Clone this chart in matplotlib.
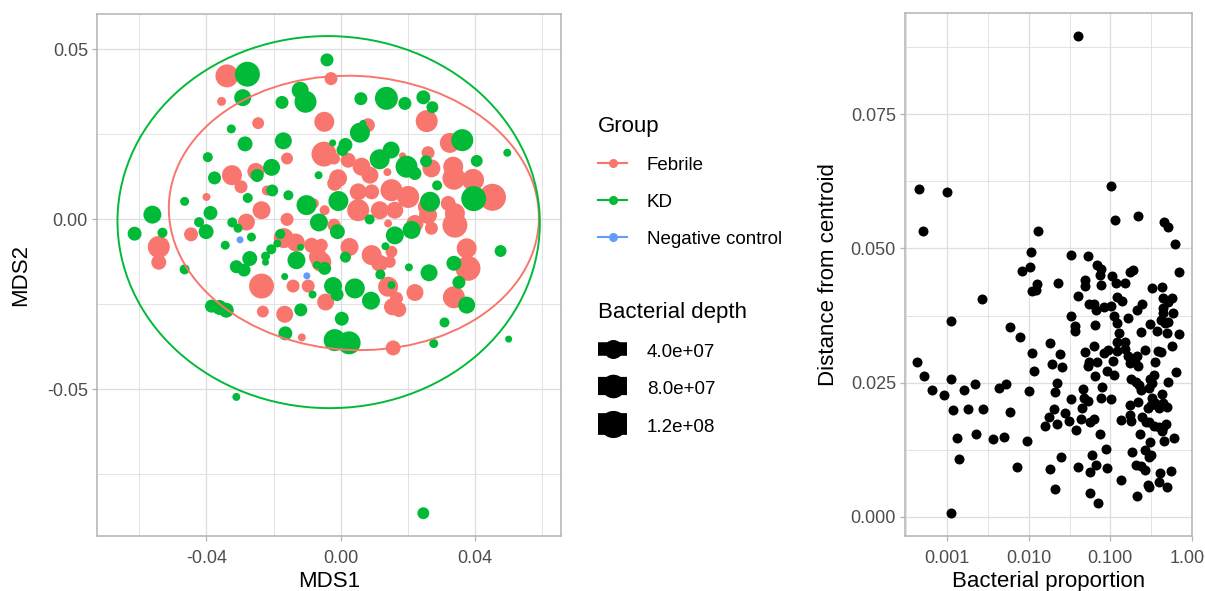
import numpy as np
import matplotlib
matplotlib.use('Agg')
import matplotlib.pyplot as plt
from matplotlib.patches import Ellipse
from matplotlib.lines import Line2D
from matplotlib.ticker import FixedLocator, FixedFormatter, NullFormatter

plt.rcParams['font.family'] = ['Liberation Sans', 'DejaVu Sans']

# MDS ordination of the samples, bacterial depth in millions of reads
febrile_mds1 = [-0.0339, -0.0029, -0.0355, 0.0256, -0.0049, -0.0246, 0.0081, -0.0050, -0.0020, -0.0160,
                0.0325, 0.0260, 0.0184, 0.0022, 0.0062, 0.0087, 0.0335, 0.0270, 0.0139, -0.0324,
                -0.0253, -0.0297, -0.0008, -0.0018, 0.0337, 0.0394, 0.0452, 0.0151, 0.0201, 0.0052,
                0.0092, 0.0320, 0.0340, 0.0340, -0.0400, -0.0220, -0.0080, 0.0052, 0.0116, 0.0161,
                0.0260, 0.0221, 0.0270, -0.0048, -0.0542, -0.0542, -0.0446, -0.0281, -0.0236, -0.0020,
                0.0141, 0.0375, 0.0379, 0.0026, 0.0092, -0.0170, -0.0134, -0.0087, -0.0058, -0.0058,
                -0.0068, -0.0160, -0.0236, -0.0142, -0.0097, -0.0045, -0.0232, -0.0167, -0.0116, 0.0141,
                0.0166, 0.0154, 0.0173, 0.0221, 0.0337, 0.0156, 0.0116, 0.0146, 0.0151, 0.0255]
febrile_mds2 = [0.0422, 0.0414, 0.0347, 0.0289, 0.0287, 0.0283, 0.0277, 0.0192, 0.0179, 0.0179,
                0.0225, 0.0196, 0.0187, 0.0174, 0.0155, 0.0130, 0.0155, 0.0150, 0.0139, 0.0130,
                0.0141, 0.0096, 0.0121, 0.0106, 0.0121, 0.0116, 0.0065, 0.0086, 0.0066, 0.0081,
                0.0081, 0.0047, 0.0018, -0.0017, 0.0066, 0.0085, 0.0047, 0.0027, 0.0027, 0.0027,
                0.0013, -0.0012, -0.0026, 0.0027, -0.0081, -0.0126, -0.0044, -0.0008, 0.0027, -0.0017,
                -0.0012, -0.0085, -0.0144, -0.0081, -0.0105, -0.0055, -0.0068, -0.0076, -0.0076, -0.0125,
                -0.0110, 0.0000, -0.0196, -0.0196, -0.0196, -0.0243, -0.0271, -0.0279, -0.0347, -0.0198,
                -0.0232, -0.0257, -0.0265, -0.0215, -0.0229, -0.0378, -0.0129, -0.0125, -0.0095, 0.0037]
febrile_depth = [88, 15, 4.3, 78, 59, 11, 19, 110, 11, 11,
                 59, 15, 3.0, 24, 43, 36, 59, 43, 3.3, 59,
                 36, 15, 43, 24, 88, 78, 136, 78, 78, 36,
                 24, 24, 59, 110, 3.3, 6.0, 6.0, 78, 43, 36,
                 43, 36, 15, 6.0, 78, 24, 19, 36, 43, 15,
                 3.3, 59, 110, 43, 59, 59, 43, 24, 15, 59,
                 43, 15, 110, 15, 15, 36, 11, 36, 3.3, 59,
                 15, 36, 24, 36, 78, 24, 36, 11, 11, 36]

kd_mds1 = [-0.0041, -0.0278, -0.0292, -0.0121, -0.0105, -0.0175, 0.0060, 0.0136, 0.0191, 0.0246,
           0.0273, -0.0326, 0.0066, 0.0057, -0.0285, -0.0171, -0.0024, 0.0014, 0.0005, -0.0396,
           0.0496, 0.0362, 0.0405, 0.0254, 0.0116, 0.0150, 0.0196, 0.0221, -0.0249, -0.0206,
           -0.0376, -0.0066, 0.0396, 0.0287, 0.0266, -0.0465, -0.0277, -0.0204, -0.0156, -0.0102,
           -0.0007, -0.0561, -0.0614, -0.0531, -0.0388, -0.0422, -0.0401, -0.0323, -0.0306, -0.0266,
           -0.0344, -0.0465, -0.0065, -0.0010, 0.0086, 0.0161, 0.0211, 0.0476, 0.0337, 0.0263,
           0.0203, 0.0118, 0.0014, -0.0180, -0.0120, -0.0189, -0.0207, -0.0224, -0.0224, -0.0271,
           -0.0311, -0.0132, -0.0048, -0.0071, -0.0167, -0.0288, -0.0084, -0.0023, -0.0361, -0.0341,
           -0.0385, -0.0119, -0.0165, -0.0011, 0.0042, 0.0090, 0.0151, 0.0375, 0.0352, 0.0003,
           -0.0018, 0.0025, 0.0277, 0.0309, 0.0500, -0.0311, 0.0246, 0.0133]
kd_mds2 = [0.0469, 0.0427, 0.0358, 0.0380, 0.0346, 0.0344, 0.0355, 0.0356, 0.0341, 0.0359,
           0.0330, 0.0266, 0.0282, 0.0255, 0.0222, 0.0231, 0.0225, 0.0219, 0.0204, 0.0183,
           0.0196, 0.0233, 0.0172, 0.0171, 0.0177, 0.0204, 0.0155, 0.0135, 0.0129, 0.0153,
           0.0122, 0.0130, 0.0061, 0.0100, 0.0052, 0.0053, 0.0063, 0.0085, 0.0071, 0.0042,
           0.0054, 0.0014, -0.0042, -0.0039, 0.0019, -0.0008, -0.0036, -0.0009, -0.0026, -0.0052,
           -0.0076, -0.0147, -0.0009, -0.0036, 0.0000, -0.0047, -0.0031, -0.0093, -0.0129, -0.0157,
           -0.0141, -0.0162, -0.0111, -0.0043, -0.0082, -0.0071, -0.0088, -0.0108, -0.0126, -0.0115,
           -0.0139, -0.0120, -0.0144, -0.0134, -0.0168, -0.0149, -0.0221, -0.0196, -0.0259, -0.0267,
           -0.0255, -0.0266, -0.0335, -0.0221, -0.0203, -0.0239, -0.0193, -0.0252, -0.0185, -0.0292,
           -0.0355, -0.0363, -0.0365, -0.0303, -0.0352, -0.0522, -0.0864, -0.0079]
kd_depth = [15, 110, 36, 36, 78, 15, 15, 88, 15, 19,
            11, 4.3, 3.0, 59, 24, 36, 3.0, 19, 11, 6.0,
            3.3, 78, 11, 11, 59, 36, 78, 15, 15, 36,
            15, 3.3, 110, 6.0, 59, 4.3, 6.0, 11, 6.0, 59,
            59, 43, 19, 6.0, 19, 6.0, 24, 6.0, 4.3, 4.3,
            4.3, 6.0, 43, 24, 6.0, 43, 43, 11, 24, 36,
            3.3, 6.0, 8.3, 6.0, 3.0, 3.3, 6.0, 4.3, 3.0, 24,
            15, 43, 15, 3.3, 3.0, 15, 3.3, 43, 24, 24,
            15, 15, 19, 15, 59, 43, 3.3, 36, 15, 19,
            78, 88, 4.3, 6.0, 3.0, 3.3, 11, 3.3]

neg_mds1 = [-0.0300, -0.0101]
neg_mds2 = [-0.0060, -0.0166]
neg_depth = [3.0, 3.0]

# 95% group ellipses: centre x, centre y, width, height, angle
febrile_ellipse = (0.0039, 0.0019, 0.1103, 0.0806, -3)
kd_ellipse = (-0.0036, -0.0008, 0.1258, 0.1094, -1)

# Beta dispersion against bacterial proportion
proportion = [0.00045, 0.00101, 0.00051, 0.0130, 0.103, 0.115, 0.219, 0.457, 0.51, 0.62,
              0.69, 0.0107, 0.0334, 0.054, 0.0695, 0.077, 0.0743, 0.106, 0.118, 0.153,
              0.176, 0.188, 0.0104, 0.00837, 0.0126, 0.0123, 0.0109, 0.0228, 0.0488, 0.0491,
              0.077, 0.00266, 0.0407, 0.121, 0.138, 0.325, 0.428, 0.447, 0.566, 0.514,
              0.055, 0.0638, 0.067, 0.084, 0.1015, 0.111, 0.164, 0.243, 0.215, 0.447,
              0.440, 0.593, 0.00113, 0.0334, 0.0651, 0.0371, 0.0367, 0.122, 0.127, 0.238,
              0.307, 0.372, 0.419, 0.470, 0.507, 0.497, 0.684, 0.00597, 0.00778, 0.0183,
              0.575, 0.120, 0.152, 0.0622,
              0.00043, 0.00052, 0.00111, 0.00066, 0.00092, 0.00163, 0.00222, 0.00434, 0.00528, 0.00117,
              0.00182, 0.00274, 0.00587, 0.0102, 0.00134, 0.00225, 0.00363, 0.00500, 0.00955, 0.00139,
              0.00721, 0.00112, 0.0111, 0.0115, 0.0243, 0.0192, 0.0255, 0.0221, 0.0209, 0.0334,
              0.0203, 0.0178, 0.0160, 0.0221, 0.0279, 0.0310, 0.0378, 0.0252, 0.0183, 0.0211,
              0.0461, 0.0478, 0.0535, 0.0448, 0.0431, 0.0566, 0.0638, 0.0757, 0.0801, 0.0766,
              0.1015, 0.0896, 0.0604, 0.0664, 0.0570, 0.0403, 0.092, 0.135, 0.0566, 0.0703,
              0.0491, 0.0550, 0.0539, 0.0684, 0.0651, 0.084, 0.093, 0.108, 0.0914, 0.111,
              0.122, 0.153, 0.164, 0.174, 0.213, 0.201, 0.221, 0.262, 0.348, 0.383,
              0.417, 0.635, 0.512, 0.341, 0.307, 0.325, 0.180, 0.207, 0.223, 0.240,
              0.299, 0.428, 0.325, 0.221, 0.175, 0.316, 0.354, 0.293, 0.389, 0.492,
              0.447, 0.172, 0.135, 0.178, 0.243, 0.272, 0.301, 0.341, 0.389, 0.447,
              0.479, 0.435, 0.232, 0.307, 0.460, 0.605, 0.185, 0.262, 0.316, 0.296,
              0.207, 0.238, 0.267, 0.407, 0.556, 0.389, 0.290, 0.299, 0.492, 0.215,
              0.040]
centroid_dist = [0.0610, 0.0606, 0.0532, 0.0533, 0.0616, 0.0554, 0.0561, 0.0549, 0.0540, 0.0509,
                 0.0457, 0.0494, 0.0487, 0.0486, 0.0470, 0.0462, 0.0451, 0.0448, 0.0435, 0.0435,
                 0.0457, 0.0460, 0.0466, 0.0458, 0.0433, 0.0423, 0.0421, 0.0436, 0.0441, 0.0430,
                 0.0432, 0.0406, 0.0412, 0.0409, 0.0402, 0.0426, 0.0429, 0.0407, 0.0408, 0.0401,
                 0.0396, 0.0396, 0.0386, 0.0390, 0.0392, 0.0375, 0.0371, 0.0396, 0.0386, 0.0389,
                 0.0379, 0.0379, 0.0365, 0.0374, 0.0358, 0.0356, 0.0346, 0.0361, 0.0342, 0.0345,
                 0.0360, 0.0346, 0.0367, 0.0361, 0.0363, 0.0342, 0.0340, 0.0353, 0.0335, 0.0323,
                 0.0319, 0.0325, 0.0325, 0.0319,
                 0.0289, 0.0263, 0.0257, 0.0236, 0.0226, 0.0236, 0.0248, 0.0239, 0.0247, 0.0199,
                 0.0201, 0.0200, 0.0195, 0.0235, 0.0146, 0.0155, 0.0145, 0.0149, 0.0142, 0.0107,
                 0.0093, 0.0007, 0.0305, 0.0271, 0.0303, 0.0284, 0.0279, 0.0249, 0.0233, 0.0220,
                 0.0200, 0.0185, 0.0169, 0.0172, 0.0194, 0.0179, 0.0161, 0.0111, 0.0088, 0.0052,
                 0.0238, 0.0221, 0.0216, 0.0203, 0.0182, 0.0176, 0.0183, 0.0154, 0.0241, 0.0221,
                 0.0220, 0.0127, 0.0115, 0.0096, 0.0083, 0.0093, 0.0091, 0.0069, 0.0044, 0.0026,
                 0.0307, 0.0289, 0.0280, 0.0288, 0.0263, 0.0305, 0.0310, 0.0291, 0.0272, 0.0265,
                 0.0308, 0.0313, 0.0299, 0.0286, 0.0299, 0.0289, 0.0281, 0.0310, 0.0289, 0.0309,
                 0.0307, 0.0270, 0.0251, 0.0264, 0.0256, 0.0249, 0.0256, 0.0252, 0.0245, 0.0236,
                 0.0240, 0.0228, 0.0222, 0.0214, 0.0208, 0.0208, 0.0212, 0.0203, 0.0202, 0.0205,
                 0.0212, 0.0190, 0.0180, 0.0179, 0.0185, 0.0177, 0.0177, 0.0169, 0.0168, 0.0168,
                 0.0173, 0.0160, 0.0155, 0.0140, 0.0141, 0.0147, 0.0121, 0.0124, 0.0115, 0.0111,
                 0.0096, 0.0095, 0.0087, 0.0082, 0.0086, 0.0065, 0.0060, 0.0055, 0.0055, 0.0038,
                 0.0896]

group_colors = {'Febrile': '#F8766D', 'KD': '#00BA38', 'Negative control': '#619CFF'}
depth_breaks = [40, 80, 120]
depth_labels = ['4.0e+07', '8.0e+07', '1.2e+08']

PX = 0.72  # points per pixel at dpi 100


def depth_diameter(depth, lo=3.0, hi=150.0, dmin=7.0, dmax=28.0):
    '''Marker diameter in points, area scaled with depth like scale_size.'''
    frac = np.clip((np.asarray(depth, dtype=float) - lo) / (hi - lo), 0, 1)
    return (dmin + (dmax - dmin) * np.sqrt(frac)) * PX


def style_axes(ax):
    ax.set_facecolor('white')
    for sp in ax.spines.values():
        sp.set_color('#B3B3B3')
        sp.set_linewidth(1.1)
    ax.grid(which='major', color='#DEDEDE', lw=0.9)
    ax.grid(which='minor', color='#DEDEDE', lw=0.6)
    ax.set_axisbelow(True)
    ax.tick_params(which='major', color='#B3B3B3', length=3.5, width=0.9,
                   labelsize=13, labelcolor='#4D4D4D')
    ax.tick_params(axis='x', which='major', pad=6.5)
    ax.tick_params(axis='y', which='major', pad=3)
    ax.tick_params(which='minor', length=0)


fig = plt.figure(figsize=(12.05, 5.91), dpi=100)

# MDS panel
ax1 = fig.add_axes([97 / 1205, 1 - 536 / 591, 464 / 1205, 522 / 591])
style_axes(ax1)
groups = [('Febrile', febrile_mds1, febrile_mds2, febrile_depth),
          ('KD', kd_mds1, kd_mds2, kd_depth),
          ('Negative control', neg_mds1, neg_mds2, neg_depth)]
for name, mx, my, dep in groups:
    ax1.scatter(mx, my, s=depth_diameter(dep) ** 2, color=group_colors[name],
                linewidths=0, zorder=2)

for name, ell in [('Febrile', febrile_ellipse), ('KD', kd_ellipse)]:
    cx, cy, w, h, ang = ell
    ax1.add_patch(Ellipse((cx, cy), w, h, angle=ang, fill=False,
                          edgecolor=group_colors[name], lw=1.4, zorder=3))

ax1.set_xlim(-0.0726, 0.0656)
ax1.set_ylim(-0.0931, 0.0604)
ax1.xaxis.set_major_locator(FixedLocator([-0.04, 0.0, 0.04]))
ax1.xaxis.set_major_formatter(FixedFormatter(['-0.04', '0.00', '0.04']))
ax1.xaxis.set_minor_locator(FixedLocator([-0.06, -0.02, 0.02, 0.06]))
ax1.yaxis.set_major_locator(FixedLocator([-0.05, 0.0, 0.05]))
ax1.yaxis.set_major_formatter(FixedFormatter(['-0.05', '0.00', '0.05']))
ax1.yaxis.set_minor_locator(FixedLocator([-0.075, -0.025, 0.025]))
ax1.set_xlabel('MDS1', fontsize=16, labelpad=3)
ax1.set_ylabel('MDS2', fontsize=16, labelpad=11.5)

# Legends
group_handles = [Line2D([], [], color=group_colors[g], lw=1.5, marker='o', markersize=5.5)
                 for g in group_colors]
leg1 = fig.legend(group_handles, list(group_colors), title='Group', loc='upper left',
                  bbox_to_anchor=(598 / 1205, 1 - 116 / 591), frameon=False,
                  fontsize=13.5, title_fontsize=16, handlelength=1.55, handletextpad=1.05,
                  labelspacing=1.06, borderpad=0, borderaxespad=0, alignment='left')

size_handles = []
for b in depth_breaks:
    d = float(depth_diameter(b))
    size_handles.append(Line2D([], [], color='black', lw=d - 4 * PX, marker='o',
                               markersize=d, solid_capstyle='butt'))
leg2 = fig.legend(size_handles, depth_labels, title='Bacterial depth', loc='upper left',
                  bbox_to_anchor=(598 / 1205, 1 - 302 / 591), frameon=False,
                  fontsize=13.5, title_fontsize=16, handlelength=1.55, handletextpad=1.05,
                  handleheight=1.3, labelspacing=0.92, borderpad=0, borderaxespad=0,
                  alignment='left')

# Dispersion panel
ax2 = fig.add_axes([905 / 1205, 1 - 536 / 591, 287 / 1205, 523 / 591])
style_axes(ax2)
ax2.scatter(proportion, centroid_dist, s=(10 * PX) ** 2, color='black', linewidths=0, zorder=2)
ax2.set_xscale('log')
ax2.set_xlim(10 ** -3.515, 1.0)
ax2.set_ylim(-0.0036, 0.0939)
ax2.xaxis.set_major_locator(FixedLocator([0.001, 0.01, 0.1, 1.0]))
ax2.xaxis.set_major_formatter(FixedFormatter(['0.001', '0.010', '0.100', '1.000']))
ax2.xaxis.set_minor_locator(FixedLocator([10 ** -3.5, 10 ** -2.5, 10 ** -1.5, 10 ** -0.5]))
ax2.xaxis.set_minor_formatter(NullFormatter())
ax2.yaxis.set_major_locator(FixedLocator([0.0, 0.025, 0.05, 0.075]))
ax2.yaxis.set_major_formatter(FixedFormatter(['0.000', '0.025', '0.050', '0.075']))
ax2.yaxis.set_minor_locator(FixedLocator([0.0125, 0.0375, 0.0625, 0.0875]))
ax2.set_xlabel('Bacterial proportion', fontsize=16, labelpad=3)
ax2.set_ylabel('Distance from centroid', fontsize=16, labelpad=8)

fig.savefig('out.png', dpi=100, facecolor='white')
